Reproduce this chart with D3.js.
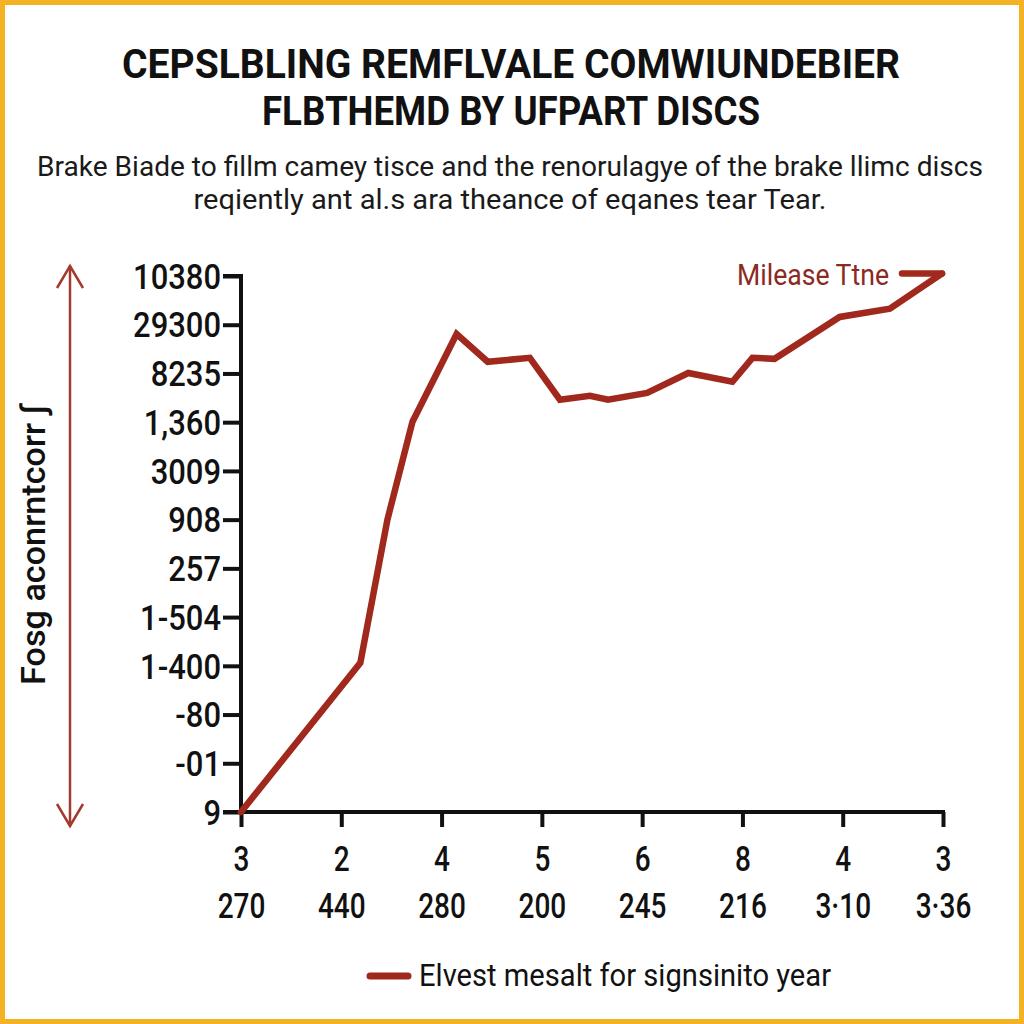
<!DOCTYPE html>
<html><head><meta charset="utf-8">
<script src="https://cdn.jsdelivr.net/npm/d3@7"></script>
<style>
html,body{margin:0;padding:0;background:#fff;}
svg{display:block;}
text{font-family:"Roboto","Liberation Sans",sans-serif;}
</style></head>
<body>
<svg id="chart" width="1024" height="1024"></svg>
<script>
// ---- data ----
const titleLines = ["CEPSLBLING REMFLVALE COMWIUNDEBIER", "FLBTHEMD BY UFPART DISCS"];
const subtitleLines = ["Brake Biade to fillm camey tisce and the renorulagye of the brake llimc discs",
                       "reqiently ant al.s ara theance of eqanes tear Tear."];
const yTickLabels = ["9","-01","-80","1-400","1-504","257","908","3009","1,360","8235","29300","10380"];
const xTickTop = ["3","2","4","5","6","8","4","3"];
const xTickBottom = ["270","440","280","200","245","216","3·10","3·36"];
const yAxisTitle = "Fosg aconrntcorr ∫";
const seriesName = "Elvest mesalt for signsinito year";
const lineLabel = "Milease Ttne";
// series: position along x-axis (tick index units) and y (tick index units)
const seriesX = [0, 1.19, 1.46, 1.71, 2.15, 2.46, 2.88, 3.18, 3.48, 3.66, 4.05, 4.46, 4.90, 5.10, 5.32, 5.97, 6.47, 6.99];
const seriesY = [0, 3.06, 6.00, 8.01, 9.81, 9.24, 9.32, 8.46, 8.54, 8.46, 8.60, 9.01, 8.83, 9.32, 9.30, 10.16, 10.33, 11.05];

const svg = d3.select("#chart");
const W = 1024, H = 1024;
const red = "#a0281c";

// border
svg.append("rect").attr("x",2.5).attr("y",2.5).attr("width",W-5).attr("height",H-5)
  .attr("fill","#fff").attr("stroke","#f4b324").attr("stroke-width",5);

// title
const titleY = [78, 125];
const titleW = [778, 498];
titleLines.forEach((t,i)=>{
  svg.append("text").attr("x",511).attr("y",titleY[i]).attr("text-anchor","middle")
    .attr("font-size",40).attr("font-weight","bold").attr("fill","#111")
    .attr("textLength",titleW[i]).attr("lengthAdjust","spacingAndGlyphs").text(t);
});
const subY = [176, 209];
const subW = [946, 633];
subtitleLines.forEach((t,i)=>{
  svg.append("text").attr("x",510).attr("y",subY[i]).attr("text-anchor","middle")
    .attr("font-size",28).attr("fill","#1a1a1a")
    .attr("textLength",subW[i]).attr("lengthAdjust","spacingAndGlyphs").text(t);
});

// scales
const x0 = 241, x1 = 943, yb = 812, yt = 276;
const x = d3.scaleLinear().domain([0, xTickTop.length-1]).range([x0, x1]);
const y = d3.scaleLinear().domain([0, yTickLabels.length-1]).range([yb, yt]);

// y axis
const sy = 0.86;
const yAxis = d3.axisLeft(y).tickValues(d3.range(yTickLabels.length))
  .tickFormat(i=>yTickLabels[i]).tickSize(18).tickPadding(2);
const gy = svg.append("g").attr("transform",`translate(${x0},0)`).call(yAxis);
gy.select(".domain").attr("stroke","#111").attr("stroke-width",4).attr("d",`M-18,${yt}H0V${yb}`);
gy.selectAll(".tick line").attr("stroke","#111").attr("stroke-width",4);
gy.selectAll(".tick text").attr("font-size",36).attr("fill","#111").attr("font-weight","500")
  .attr("x",-20/sy).attr("dy","0.34em").attr("transform",`scale(${sy},1)`);

// x axis
const sx = 0.8;
const xAxis = d3.axisBottom(x).tickValues(d3.range(xTickTop.length)).tickFormat("").tickSize(15);
const gx = svg.append("g").attr("transform",`translate(0,${yb})`).call(xAxis);
gx.select(".domain").attr("stroke","#111").attr("stroke-width",4).attr("d",`M${x0-18},0H${x1+2}`);
gx.selectAll(".tick line").attr("stroke","#111").attr("stroke-width",4);
gx.selectAll(".tick").append("text").attr("y",59).attr("text-anchor","middle")
  .attr("font-size",35).attr("font-weight","500").attr("fill","#111")
  .attr("transform",`scale(${sx},1)`).text(i=>xTickTop[i]);
gx.selectAll(".tick").append("text").attr("y",106).attr("text-anchor","middle")
  .attr("font-size",35).attr("font-weight","500").attr("fill","#111")
  .attr("transform",`scale(${sx},1)`).text(i=>xTickBottom[i]);

// line
const line = d3.line().x(d=>x(d[0])).y(d=>y(d[1]));
const pts = seriesX.map((v,i)=>[v, seriesY[i]]);
svg.append("path").datum(pts).attr("d",line).attr("fill","none")
  .attr("stroke",red).attr("stroke-width",6.5).attr("stroke-linejoin","miter").attr("stroke-linecap","round");

// line label with leader
const last = pts[pts.length-1];
svg.append("line").attr("x1",x(last[0])-40).attr("x2",x(last[0])).attr("y1",y(last[1])).attr("y2",y(last[1]))
  .attr("stroke",red).attr("stroke-width",6.5).attr("stroke-linecap","round");
svg.append("text").attr("x",x(last[0])-53).attr("y",y(last[1])+11).attr("text-anchor","end")
  .attr("font-size",30).attr("fill","#8a2a22").attr("textLength",152).attr("lengthAdjust","spacingAndGlyphs").text(lineLabel);

// left double arrow
const ax = 70, ay1 = 266, ay2 = 826;
const ag = svg.append("g").attr("stroke","#a33a30").attr("stroke-width",2.5).attr("fill","none");
ag.append("line").attr("x1",ax).attr("x2",ax).attr("y1",ay1).attr("y2",ay2);
ag.append("path").attr("d",`M${ax-13},${ay1+22}L${ax},${ay1}L${ax+13},${ay1+22}`);
ag.append("path").attr("d",`M${ax-13},${ay2-22}L${ax},${ay2}L${ax+13},${ay2-22}`);

// y axis title
svg.append("text").attr("transform",`translate(45,545) rotate(-90)`).attr("text-anchor","middle")
  .attr("font-size",34).attr("font-weight","500").attr("fill","#111").attr("textLength",280).attr("lengthAdjust","spacingAndGlyphs")
  .text(yAxisTitle);

// legend
svg.append("line").attr("x1",370).attr("x2",408).attr("y1",976).attr("y2",976)
  .attr("stroke",red).attr("stroke-width",7).attr("stroke-linecap","round");
svg.append("text").attr("x",419).attr("y",986).attr("font-size",32).attr("fill","#111")
  .attr("textLength",412).attr("lengthAdjust","spacingAndGlyphs").text(seriesName);
</script>
</body></html>
